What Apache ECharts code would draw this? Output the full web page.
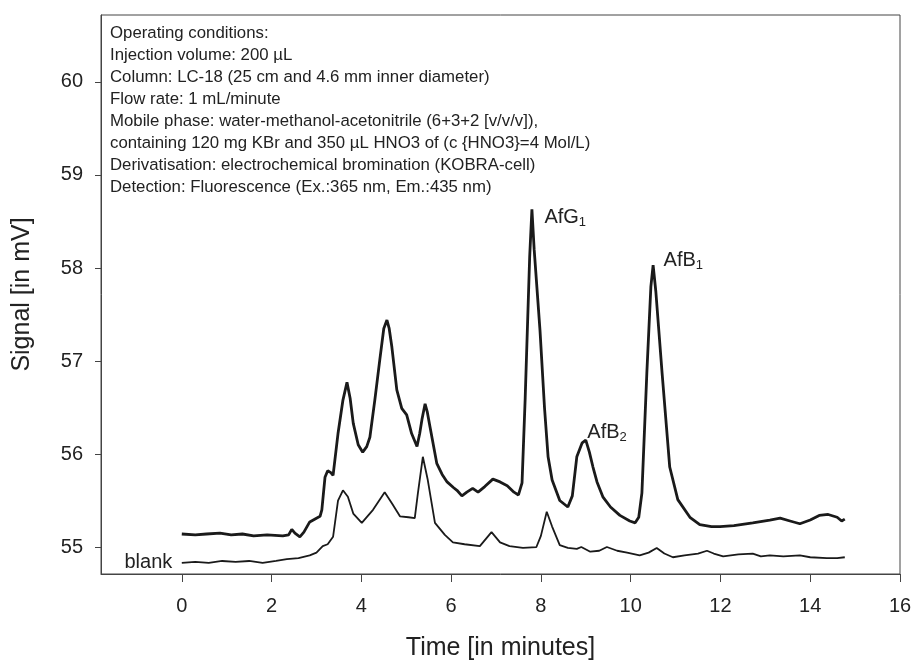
<!DOCTYPE html>
<html lang="en">
<head>
	<meta charset="UTF-8">
	<title>chromatogram</title>
	<style type="text/css">
	body{margin: 0;padding:0;background:#fff;}
	#main{width:916px;height:668px;}
	</style>
</head>
<body>
	<div id="main"></div>

	<script src="https://cdn.jsdelivr.net/npm/echarts@6/dist/echarts.min.js"></script>
	<script>
		// sample trace
		var mainTime = [0,0.3,0.55,0.85,1.1,1.35,1.6,1.9,2.25,2.38,2.45,2.52,2.63,2.72,2.85,3.0,3.08,3.12,3.19,3.25,3.32,3.37,3.48,3.59,3.68,3.75,3.82,3.93,4.03,4.12,4.19,4.3,4.41,4.5,4.57,4.62,4.68,4.79,4.9,5.01,5.12,5.24,5.3,5.35,5.42,5.47,5.53,5.68,5.8,5.91,6.05,6.13,6.24,6.35,6.48,6.6,6.75,6.93,7.09,7.25,7.4,7.5,7.58,7.65,7.75,7.8,7.85,7.98,8.08,8.16,8.25,8.42,8.6,8.7,8.8,8.92,9.0,9.08,9.16,9.25,9.38,9.55,9.76,9.98,10.1,10.18,10.25,10.36,10.45,10.5,10.56,10.7,10.87,11.05,11.32,11.54,11.8,11.99,12.3,12.72,13.1,13.33,13.55,13.77,14.0,14.2,14.4,14.6,14.7,14.77];
		var mainSignal = [55.14,55.13,55.14,55.15,55.13,55.14,55.12,55.13,55.12,55.13,55.19,55.15,55.11,55.16,55.27,55.31,55.33,55.40,55.75,55.82,55.80,55.77,56.22,56.58,56.77,56.60,56.33,56.10,56.02,56.08,56.18,56.58,57.01,57.35,57.44,57.35,57.15,56.69,56.49,56.42,56.22,56.08,56.22,56.37,56.54,56.45,56.29,55.90,55.78,55.70,55.64,55.61,55.55,55.59,55.63,55.59,55.65,55.73,55.70,55.66,55.59,55.56,55.69,56.60,58.12,58.63,58.20,57.33,56.50,55.97,55.72,55.50,55.43,55.55,55.97,56.12,56.15,56.02,55.86,55.70,55.54,55.43,55.34,55.28,55.26,55.32,55.58,56.87,57.80,58.03,57.75,56.87,55.86,55.51,55.32,55.24,55.22,55.22,55.23,55.26,55.29,55.31,55.28,55.25,55.29,55.34,55.35,55.32,55.28,55.30];

		// blank run
		var blankTime = [0,0.3,0.6,0.9,1.2,1.5,1.8,2.1,2.34,2.6,2.85,3.0,3.14,3.25,3.37,3.48,3.59,3.7,3.82,4.01,4.26,4.52,4.68,4.86,5.05,5.19,5.26,5.37,5.48,5.64,5.86,6.04,6.3,6.64,6.9,7.09,7.3,7.6,7.9,8.0,8.13,8.25,8.42,8.6,8.8,8.9,9.1,9.3,9.47,9.7,9.92,10.2,10.4,10.58,10.75,10.94,11.2,11.5,11.7,11.85,12.06,12.4,12.72,12.9,13.1,13.4,13.77,14.0,14.37,14.6,14.77];
		var blankSignal = [54.83,54.84,54.83,54.85,54.84,54.85,54.83,54.85,54.87,54.88,54.91,54.94,55.01,55.03,55.11,55.50,55.61,55.54,55.36,55.26,55.40,55.59,55.47,55.33,55.32,55.31,55.58,55.97,55.72,55.26,55.13,55.05,55.03,55.01,55.16,55.05,55.01,54.99,55.00,55.12,55.38,55.22,55.02,54.99,54.98,55.00,54.95,54.96,55.00,54.96,54.94,54.91,54.94,54.99,54.93,54.89,54.91,54.93,54.96,54.93,54.90,54.92,54.93,54.90,54.91,54.90,54.91,54.89,54.88,54.88,54.89];

		var xTicks = [0,2,4,6,8,10,12,14,16];
		var yTicks = [55,56,57,58,59,60];

		var notes = [
			'Operating conditions:',
			'Injection volume: 200 \u00b5L',
			'Column: LC-18 (25 cm and 4.6 mm inner diameter)',
			'Flow rate: 1 mL/minute',
			'Mobile phase: water-methanol-acetonitrile (6+3+2 [v/v/v]),',
			'containing 120 mg KBr and 350 \u00b5L HNO3 of (c {HNO3}=4 Mol/L)',
			'Derivatisation: electrochemical bromination (KOBRA-cell)',
			'Detection: Fluorescence (Ex.:365 nm, Em.:435 nm)'
		];

		var font = 'Liberation Sans, Arial, sans-serif';
		var ink = '#1a1a1a';

		function pairs(xs, ys){
			var out = [];
			for(var i=0;i<xs.length;i++){ out.push([xs[i], ys[i]]); }
			return out;
		}
		function peakAt(t){
			return [t, mainSignal[mainTime.indexOf(t)]];
		}

		var peakRich = {
			m:{fontSize:20,color:'#222',fontFamily:font},
			s:{fontSize:13,color:'#222',fontFamily:font,padding:[10,0,0,0]}
		};

		var myChart = echarts.init(document.getElementById('main'));
		var option = {
			animation:false,
			backgroundColor:'#fff',
			grid:{
				left:101,right:16,top:15,bottom:94,
				show:true,borderColor:'#444',borderWidth:1
			},
			graphic:[{
				type:'text',
				left:110,top:22,
				style:{
					text:notes.join('\n'),
					font:'16.8px ' + font,
					lineHeight:22,
					fill:'#222'
				}
			}],
			xAxis:{
				type:'value',
				min:-1.8,max:16,
				name:'Time [in minutes]',
				nameLocation:'middle',
				nameGap:62,
				nameTextStyle:{fontSize:25,color:'#222',fontFamily:font},
				axisLine:{onZero:false,lineStyle:{color:'#444',width:1}},
				axisTick:{show:true,length:8,customValues:xTicks,lineStyle:{color:'#444'}},
				axisLabel:{customValues:xTicks,fontSize:20,color:'#222',fontFamily:font,margin:22},
				splitLine:{show:false}
			},
			yAxis:{
				type:'value',
				min:54.71,max:60.72,
				name:'Signal [in mV]',
				nameLocation:'middle',
				nameGap:66,
				nameTextStyle:{fontSize:25,color:'#222',fontFamily:font},
				axisLine:{show:true,onZero:false,lineStyle:{color:'#444',width:1}},
				axisTick:{show:true,length:6,customValues:yTicks,lineStyle:{color:'#444'}},
				axisLabel:{customValues:yTicks,fontSize:20,color:'#222',fontFamily:font,margin:18},
				splitLine:{show:false}
			},
			series:[{
				name:'sample',
				type:'line',
				data:pairs(mainTime, mainSignal),
				showSymbol:false,
				lineStyle:{color:ink,width:2.8},
				markPoint:{
					symbol:'circle',symbolSize:1,
					itemStyle:{color:'transparent'},
					label:{show:true,rich:peakRich,align:'left',verticalAlign:'top'},
					data:[
						{coord:peakAt(7.8),label:{formatter:'{m|AfG}{s|1}',position:[13,-3]}},
						{coord:peakAt(9.0),label:{formatter:'{m|AfB}{s|2}',position:[2,-19]}},
						{coord:peakAt(10.5),label:{formatter:'{m|AfB}{s|1}',position:[11,-16]}}
					]
				}
			},{
				name:'blank',
				type:'line',
				data:pairs(blankTime, blankSignal),
				showSymbol:false,
				lineStyle:{color:ink,width:1.8},
				markPoint:{
					symbol:'circle',symbolSize:1,
					itemStyle:{color:'transparent'},
					label:{show:true,position:'left',distance:9,fontSize:20,color:'#222',fontFamily:font,formatter:'blank'},
					data:[{coord:[blankTime[0], blankSignal[0]]}]
				}
			}]
		};
		myChart.setOption(option);
	</script>
</body>
</html>
